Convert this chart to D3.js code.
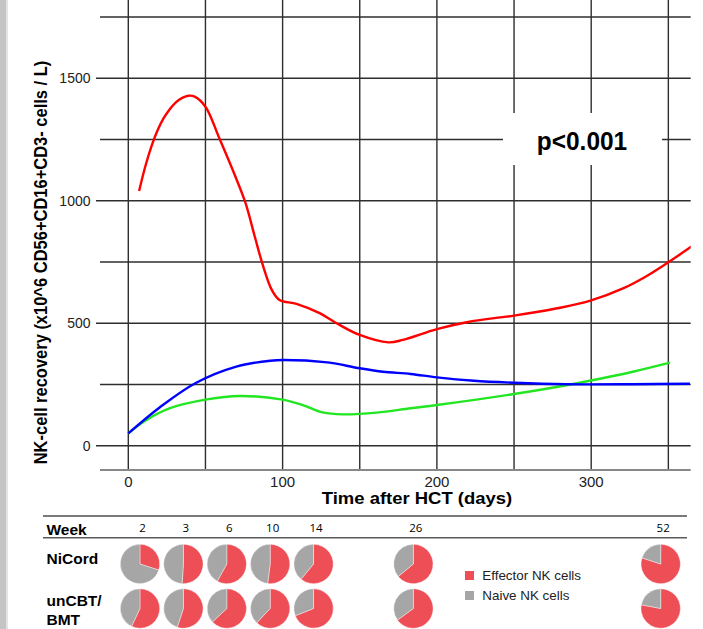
<!DOCTYPE html>
<html lang="en">
<head>
<meta charset="UTF-8">
<title>NK-cell recovery after HCT</title>
<script src="https://d3js.org/d3.v7.min.js"></script>
<style>
  body { margin: 0; background: #fff; }
  text { font-family: Arial, "Liberation Sans", sans-serif; }
</style>
</head>
<body>
<div id="chart"></div>
<script>

// ---- data ----
var redDays   = [7, 11, 15, 19, 23, 27, 31, 35, 39, 43, 50, 59, 69, 76, 82, 87.5, 93, 98, 109, 124, 135, 150, 168.5, 178, 200, 221, 241, 250, 278, 299, 321, 336, 350, 365];
var redCells  = [1040, 1140, 1222, 1288, 1338, 1375, 1403, 1420, 1429, 1425, 1384, 1255, 1105, 990, 853, 731, 636, 595, 579, 541, 500, 452, 422, 432, 476, 506, 524, 531, 561, 591, 643, 693, 749, 813];

var blueDays  = [0, 20.5, 44, 70, 92, 100.5, 129, 150, 165, 183, 200, 224, 250, 284, 327, 364];
var blueCells = [50, 157, 257, 323, 347, 350, 340, 316, 302, 293, 279, 265, 257, 251, 251, 253];

var greenDays  = [0, 10, 27, 51, 72, 99, 113, 126, 139, 161, 183, 200, 250, 284, 299, 327, 351];
var greenCells = [50, 98, 153, 189, 203, 189, 166, 136, 128, 135, 153, 166, 211, 247, 265, 302, 339];

var xTicks = [0, 100, 200, 300];
var yTicks = [0, 500, 1000, 1500];

var weeks = [2, 3, 6, 10, 14, 26, 52];
var weekColumn = [0, 1, 2, 3, 4, 6.3, 12];   // table column slot of each week
var nicordEffector = [0.30, 0.51, 0.58, 0.52, 0.61, 0.64, 0.80];
var uncbtEffector  = [0.57, 0.55, 0.63, 0.62, 0.69, 0.65, 0.78];

var W = 703, H = 629;
var plot = {left: 100, right: 690.7, top: 0, bottom: 470};

var svg = d3.select("#chart").append("svg")
  .attr("width", W).attr("height", H);

svg.append("rect").attr("width", W).attr("height", H).attr("fill", "#fff");
// grey strip on the left edge
svg.append("rect").attr("x", 0).attr("y", 0).attr("width", 6).attr("height", H).attr("fill", "#c4c4c4");
svg.append("rect").attr("x", 6).attr("y", 0).attr("width", 2).attr("height", H).attr("fill", "#e4e4e4");

var x = d3.scaleLinear().domain([0, 300]).range([128.3, 591.2]);
var y = d3.scaleLinear().domain([0, 1500]).range([445.7, 78.3]);

// grid
var grid = svg.append("g").attr("stroke", "#2e2e2e").attr("stroke-width", 1.4);
grid.selectAll(".vg").data(d3.range(0, 351, 50)).join("line")
  .attr("x1", d => x(d)).attr("x2", d => x(d))
  .attr("y1", plot.top).attr("y2", plot.bottom);
grid.selectAll(".hg").data(d3.range(0, 1751, 250)).join("line")
  .attr("x1", d => yTicks.includes(d) ? plot.left - 4 : plot.left).attr("x2", plot.right)
  .attr("y1", d => y(d)).attr("y2", d => y(d));

// bottom axis line
svg.append("line")
  .attr("x1", plot.left).attr("x2", plot.right)
  .attr("y1", plot.bottom).attr("y2", plot.bottom)
  .attr("stroke", "#888").attr("stroke-width", 2);

// tick labels
svg.selectAll(".xt").data(xTicks).join("text")
  .attr("x", d => x(d)).attr("y", 486.5)
  .attr("text-anchor", "middle").attr("font-size", 15).attr("fill", "#222")
  .text(d => d);
svg.selectAll(".yt").data(yTicks).join("text")
  .attr("x", 90.5).attr("y", d => y(d)).attr("dy", "0.36em")
  .attr("text-anchor", "end").attr("font-size", 14).attr("fill", "#222")
  .text(d => d);

// axis titles
svg.append("text")
  .attr("transform", "translate(417,504) scale(1.12,1)")
  .attr("text-anchor", "middle").attr("font-size", 16.5).attr("font-weight", "bold")
  .text("Time after HCT (days)");
svg.append("text")
  .attr("transform", "translate(47,262.5) scale(1.1,1) rotate(-90)")
  .attr("text-anchor", "middle").attr("font-size", 16.5).attr("font-weight", "bold")
  .text("NK-cell recovery (x10^6 CD56+CD16+CD3- cells / L)");

// p-value box
svg.append("rect")
  .attr("x", 503).attr("y", 113).attr("width", 159).attr("height", 52)
  .attr("fill", "#fff");
svg.append("text")
  .attr("transform", "translate(582,149.5) scale(0.94,1)")
  .attr("text-anchor", "middle").attr("font-size", 26).attr("font-weight", "bold")
  .text("p<0.001");

// curves
svg.append("clipPath").attr("id", "clip").append("rect")
  .attr("x", plot.left).attr("y", plot.top)
  .attr("width", plot.right - plot.left).attr("height", plot.bottom - plot.top);

var line = d3.line().curve(d3.curveCatmullRom.alpha(0.5)).x(d => x(d[0])).y(d => y(d[1]));
var series = [
  {days: greenDays, cells: greenCells, color: "#22e622"},
  {days: blueDays, cells: blueCells, color: "#0000ff"},
  {days: redDays, cells: redCells, color: "#ff0000"}
];
svg.append("g").attr("clip-path", "url(#clip)")
  .selectAll("path").data(series).join("path")
  .attr("fill", "none").attr("stroke", d => d.color).attr("stroke-width", 2.4)
  .attr("stroke-linejoin", "round")
  .attr("d", d => line(d.days.map((t, i) => [t, d.cells[i]])));

// ---- table with pies ----
var tbl = svg.append("g");
tbl.append("line").attr("x1", 43).attr("x2", 687).attr("y1", 516).attr("y2", 516)
  .attr("stroke", "#7a7a7a").attr("stroke-width", 2);
tbl.append("line").attr("x1", 43).attr("x2", 687).attr("y1", 537.7).attr("y2", 537.7)
  .attr("stroke", "#5a5a5a").attr("stroke-width", 1.6);

var rowLabels = [{t: "Week", y: 534.5}, {t: "NiCord", y: 564}, {t: "unCBT/", y: 605.5}, {t: "BMT", y: 624.5}];
tbl.selectAll(".rl").data(rowLabels).join("text")
  .attr("x", 46.5).attr("y", d => d.y)
  .attr("font-size", 15.5).attr("font-weight", "bold")
  .text(d => d.t);

var col = d3.scaleLinear().domain([0, 12]).range([140, 660.7]);

tbl.selectAll(".wk").data(weeks).join("text")
  .attr("x", (d, i) => col(weekColumn[i]) + 2.5).attr("y", 532)
  .attr("text-anchor", "middle").attr("font-size", 11.5)
  .style("font-family", "'Open Sans', sans-serif")
  .text(d => d);

var pie = d3.pie().sort(null).value(d => d);
var arc = d3.arc().innerRadius(0).outerRadius(19.7);
var pieColors = ["#ee4e56", "#a6a6a6"];

function pieRow(values, cy) {
  var g = tbl.append("g");
  values.forEach(function(v, i) {
    g.append("g")
      .attr("transform", "translate(" + col(weekColumn[i]) + "," + cy + ")")
      .selectAll("path").data(pie([v, 1 - v])).join("path")
      .attr("d", arc).attr("fill", (d, j) => pieColors[j])
      .attr("stroke", "#fff").attr("stroke-width", 0.4);
  });
}
pieRow(nicordEffector, 564);
pieRow(uncbtEffector, 608.5);

// legend
var legend = [{label: "Effector NK cells", color: pieColors[0]}, {label: "Naive NK cells", color: pieColors[1]}];
var lg = tbl.selectAll(".lg").data(legend).join("g")
  .attr("transform", (d, i) => "translate(465," + (571 + i * 20) + ")");
lg.append("rect").attr("width", 9).attr("height", 9).attr("fill", d => d.color);
lg.append("text").attr("x", 17.3).attr("y", 9).attr("font-size", 13.4).attr("fill", "#222").text(d => d.label);

</script>
</body>
</html>
